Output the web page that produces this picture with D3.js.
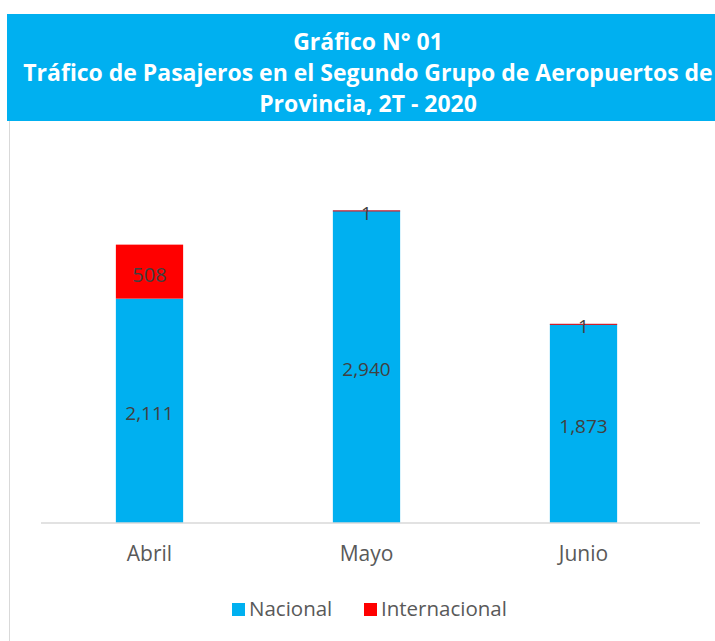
<!DOCTYPE html>
<html>
<head>
<meta charset="utf-8">
<script src="https://cdn.jsdelivr.net/npm/d3@7"></script>
<style>
  body { margin: 0; background: #fff; }
  svg { display: block; }
</style>
</head>
<body>
<div id="chart"></div>
<script>
// ---------- data ----------
const months = ["Abril", "Mayo", "Junio"];
const nacional = [2111, 2940, 1873];
const internacional = [508, 1, 1];
const seriesNames = ["Nacional", "Internacional"];
const seriesColors = ["#00B0F0", "#FF0000"];
const titleLines = ["Gráfico N° 01",
  "Tráfico de Pasajeros en el Segundo Grupo de Aeropuertos de",
  "Provincia, 2T - 2020"];

const width = 715, height = 641;
const font = "'Open Sans', sans-serif";

const svg = d3.select("#chart").append("svg")
  .attr("width", width)
  .attr("height", height);

// chart border (left edge visible)
svg.append("line")
  .attr("x1", 9.5).attr("x2", 9.5)
  .attr("y1", 121).attr("y2", height)
  .attr("stroke", "#d9d9d9");

// title banner
svg.append("rect")
  .attr("x", 7).attr("y", 14)
  .attr("width", width - 7).attr("height", 107)
  .attr("fill", "#00B0F0");

const title = svg.append("g").selectAll("text")
  .data(titleLines)
  .enter().append("text")
  .attr("x", 368)
  .attr("y", (d, i) => 50 + i * 31)
  .attr("text-anchor", "middle")
  .attr("fill", "#fff")
  .style("font-family", font)
  .style("font-weight", "bold")
  .style("font-size", "20px")
  .text(d => d);

// fit the long line to the banner width, like the original
const longest = title.filter((d, i) => i === 1).node();
const fs = 20 * 690 / longest.getComputedTextLength();
title.style("font-size", fs + "px");

// ---------- scales ----------
const data = months.map((m, i) => ({ month: m, Nacional: nacional[i], Internacional: internacional[i] }));
const stacked = d3.stack().keys(seriesNames)(data);

const x = d3.scaleBand()
  .domain(months)
  .range([41, 692])
  .paddingInner(0.69)
  .paddingOuter(0.345);

const y = d3.scaleLinear()
  .domain([0, 3500])
  .range([523, 151]);

const color = d3.scaleOrdinal().domain(seriesNames).range(seriesColors);

// ---------- bars ----------
const layers = svg.append("g").selectAll("g.layer")
  .data(stacked)
  .enter().append("g")
  .attr("class", "layer")
  .attr("fill", d => color(d.key));

layers.selectAll("rect")
  .data(d => d)
  .enter().append("rect")
  .attr("x", d => x(d.data.month))
  .attr("width", x.bandwidth())
  .attr("y", d => y(d[1]))
  .attr("height", d => Math.max(1, y(d[0]) - y(d[1])));

// data labels
layers.selectAll("text")
  .data(d => d)
  .enter().append("text")
  .attr("x", d => x(d.data.month) + x.bandwidth() / 2)
  .attr("y", d => (y(d[0]) + y(d[1])) / 2)
  .attr("dy", "0.5em")
  .attr("text-anchor", "middle")
  .attr("fill", "#404040")
  .style("font-family", font)
  .style("font-size", d => d[1] - d[0] > 100 && d[1] - d[0] < 1000 ? "20px" : "19px")
  .text(d => d3.format(",")(d[1] - d[0]));

// ---------- axis ----------
const xaxis = d3.axisBottom(x).tickSize(0).tickPadding(23);
const ax = svg.append("g")
  .attr("transform", "translate(0,523)")
  .call(xaxis);
ax.select(".domain").attr("stroke", "#d9d9d9").attr("stroke-width", 1.5)
  .attr("d", "M41,0H700");
ax.selectAll("text")
  .attr("fill", "#595959")
  .style("font-family", font)
  .style("font-size", "21px");

// ---------- legend ----------
const legendX = [232, 364];
const legend = svg.append("g").selectAll("g")
  .data(seriesNames)
  .enter().append("g")
  .attr("transform", (d, i) => "translate(" + legendX[i] + ",603)");
legend.append("rect")
  .attr("width", 13).attr("height", 13)
  .attr("fill", d => color(d));
legend.append("text")
  .attr("x", 17).attr("y", 6)
  .attr("dy", "0.35em")
  .attr("fill", "#595959")
  .style("font-family", font)
  .style("font-size", "20.5px")
  .text(d => d);
</script>
</body>
</html>
